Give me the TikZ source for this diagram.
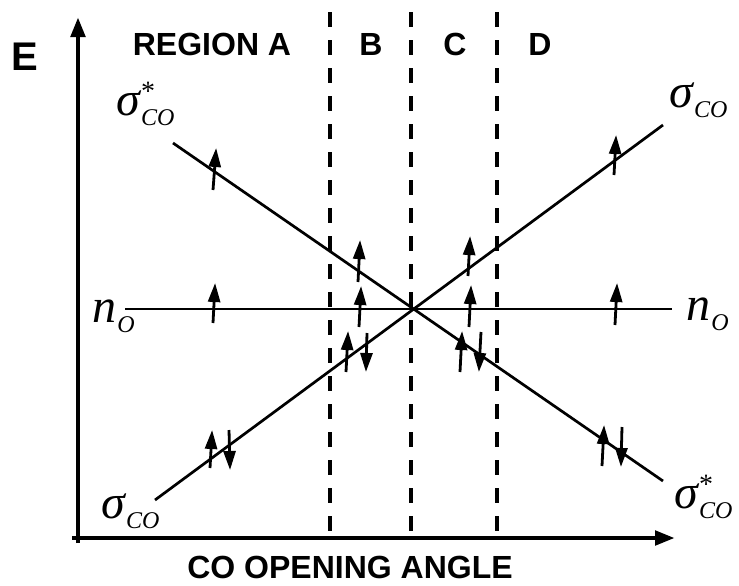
\documentclass[tikz,border=0pt]{standalone}
\usepackage{fontspec}
\setmainfont{Liberation Sans}
\newfontfamily\orbfont{Liberation Serif}
\usepackage{tikz}
\usetikzlibrary{arrows.meta}

\newcommand{\orbbig}[1]{{\fontsize{24}{26}\selectfont\orbfont\itshape #1}}
\newcommand{\orbsmall}[1]{{\fontsize{12}{14}\selectfont\orbfont #1}}
\newcommand{\orbstar}{{\fontsize{14}{16}\selectfont\orbfont *}}
% orbital symbol: letter, superscript, subscript
\newcommand{\orbsym}[3]{\orbbig{#1}\kern0.5pt\rlap{\raisebox{7.5pt}{#2}}\raisebox{-5pt}{\orbsmall{\itshape #3}}}

\begin{document}
\begin{tikzpicture}[
  x=0.5pt, y=-0.5pt,
  >=Stealth,
  axisline/.style={-{Triangle[length=10pt,width=7pt]}, line width=2.4pt},
  regionsep/.style={line width=2pt, dash pattern=on 7.5pt off 6.5pt},
  orbline/.style={line width=1.35pt},
  spin/.style={-{Triangle[length=9.5pt,width=6pt]}, line width=1.4pt, shorten >=-1pt},
  toplabel/.style={font=\fontsize{16}{18}\selectfont\bfseries, inner sep=0pt},
  orblabel/.style={anchor=base west, inner sep=0pt}
]
  \useasboundingbox (0,0) rectangle (739,585);
  % axes
  \coordinate (origin) at (78,538);
  \coordinate (ytop) at (78,17);
  \coordinate (xend) at (675,538);
  \draw[axisline] (78,543) -- (ytop);
  \draw[axisline] (72,538) -- (xend);
  \node[font=\fontsize{20}{22}\selectfont\bfseries, inner sep=0pt] (elabel) at (25,57) {E};
  \node[toplabel] (xlabel) at (350,567) {CO OPENING ANGLE};
  % region borders
  \foreach \xb/\nm in {330/ab, 411/bc, 497/cd} {
    \coordinate (\nm top) at (\xb,12);
    \coordinate (\nm bot) at (\xb,538);
    \draw[regionsep] (\nm top) -- (\nm bot);
  }
  \node[toplabel] (regA) at (212,44) {REGION A};
  \node[toplabel] (regB) at (371,44) {B};
  \node[toplabel] (regC) at (455,44) {C};
  \node[toplabel] (regD) at (540,44) {D};
  % orbital levels
  \coordinate (sgL) at (155,500);
  \coordinate (sgR) at (663,125);
  \coordinate (ssL) at (173,143);
  \coordinate (ssR) at (663,481);
  \coordinate (nL) at (125,309);
  \coordinate (nR) at (672,309);
  \draw[orbline] (sgL) -- (sgR);
  \draw[orbline] (ssL) -- (ssR);
  \draw[orbline] (nL) -- (nR);
  \node[orblabel] (ssLlab) at (116,115) {\orbsym{σ}{\orbstar}{CO}};
  \node[orblabel] (sgRlab) at (669,107) {\orbsym{σ}{}{CO}};
  \node[orblabel] (nLlab) at (92,322) {\orbsym{n}{}{O}};
  \node[orblabel] (nRlab) at (686,320) {\orbsym{n}{}{O}};
  \node[orblabel] (sgLlab) at (101,518) {\orbsym{σ}{}{CO}};
  \node[orblabel] (ssRlab) at (674,508) {\orbsym{σ}{\orbstar}{CO}};
  % electrons
  \foreach \xa/\ya/\xb/\yb in {
    213/190/216/150, 213/323/215/285, 210/468/212/432, 229/430/230/468,
    358/282/360/242, 359/327/361/288, 346/372/348/333, 367/333/366/370,
    468/276/470/238, 469/327/471/287, 460/372/462/333, 481/332/479/370,
    614/175/616/137, 615/325/617/285, 602/466/604/427, 622/427/621/465} {
    \draw[spin] (\xa,\ya) -- (\xb,\yb);
  }
\end{tikzpicture}
\end{document}
